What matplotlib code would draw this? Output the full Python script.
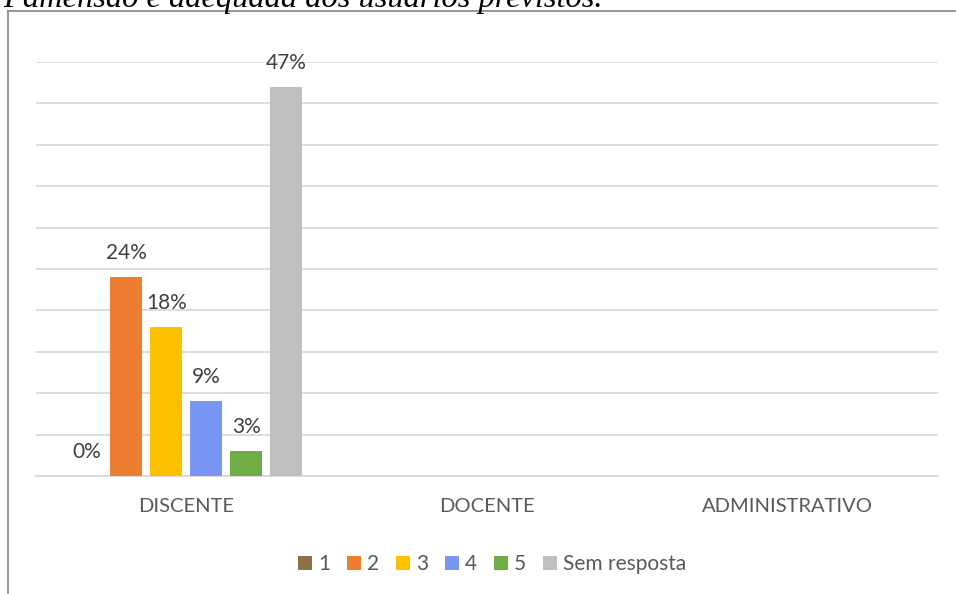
import matplotlib.pyplot as plt
from matplotlib.lines import Line2D
import numpy as np

# dados
categorias = ["DISCENTE", "DOCENTE", "ADMINISTRATIVO"]
series = ["1", "2", "3", "4", "5", "Sem resposta"]
valores = {
    "1": [0, None, None],
    "2": [24, None, None],
    "3": [18, None, None],
    "4": [9, None, None],
    "5": [3, None, None],
    "Sem resposta": [47, None, None],
}
cores = ["#8B7048", "#ED7D31", "#FFC000", "#7A96F5", "#70AD47", "#BFBFBF"]
titulo = "Pamensão é adequada aos usuários previstos."

plt.rcParams['font.family'] = ['Lato', 'DejaVu Sans']
cinza = "#595959"

W, H = 956, 594
fig = plt.figure(figsize=(W/100, H/100), dpi=100)
ax = fig.add_axes([36/W, 1-476/H, (938-36)/W, (476-62)/H])

# moldura do gráfico (só borda esquerda e superior visíveis)
fig.add_artist(Line2D([8/W, 8/W], [0, 1-11/H], transform=fig.transFigure,
                      color="#8C8C8C", linewidth=1.3))
fig.add_artist(Line2D([8/W, 1], [1-11/H, 1-11/H], transform=fig.transFigure,
                      color="#8C8C8C", linewidth=1.3))

x = np.arange(len(categorias))
largura = 32/300.7
passo = 40/300.7
for i, s in enumerate(series):
    pos = x[0] + (i - 2.5) * passo
    v = valores[s][0]
    ax.bar(pos, v, width=largura, color=cores[i], label=s, zorder=3)
    ax.text(pos, v + 1.7, f"{v}%", ha="center", va="bottom", fontsize=15,
            color="#404040", zorder=4)

ax.set_xlim(-0.5, 2.5)
ax.set_ylim(0, 50)
ax.set_yticks(np.arange(0, 51, 5))
ax.yaxis.grid(True, color="#D9D9D9", linewidth=1.3, zorder=0)
ax.tick_params(axis="y", left=False, labelleft=False)
ax.set_xticks(x)
ax.set_xticklabels(categorias, fontsize=14.5, color=cinza)
ax.tick_params(axis="x", length=0, pad=16)
for sp in ["top", "right", "left"]:
    ax.spines[sp].set_visible(False)
ax.spines["bottom"].set_color("#D9D9D9")
ax.spines["bottom"].set_linewidth(1.3)

leg = ax.legend(loc="center", bbox_to_anchor=(492/W, 1-564/H),
                bbox_transform=fig.transFigure, ncol=6, frameon=False,
                fontsize=15, handlelength=0.67, handleheight=0.67,
                handletextpad=0.3, columnspacing=0.8)
for t in leg.get_texts():
    t.set_color(cinza)

fig.text(3/W, 1-7/H, titulo, fontsize=23.4, style="italic",
         family="Liberation Serif", ha="left", va="baseline", color="black")

fig.savefig("out.png", dpi=100)
